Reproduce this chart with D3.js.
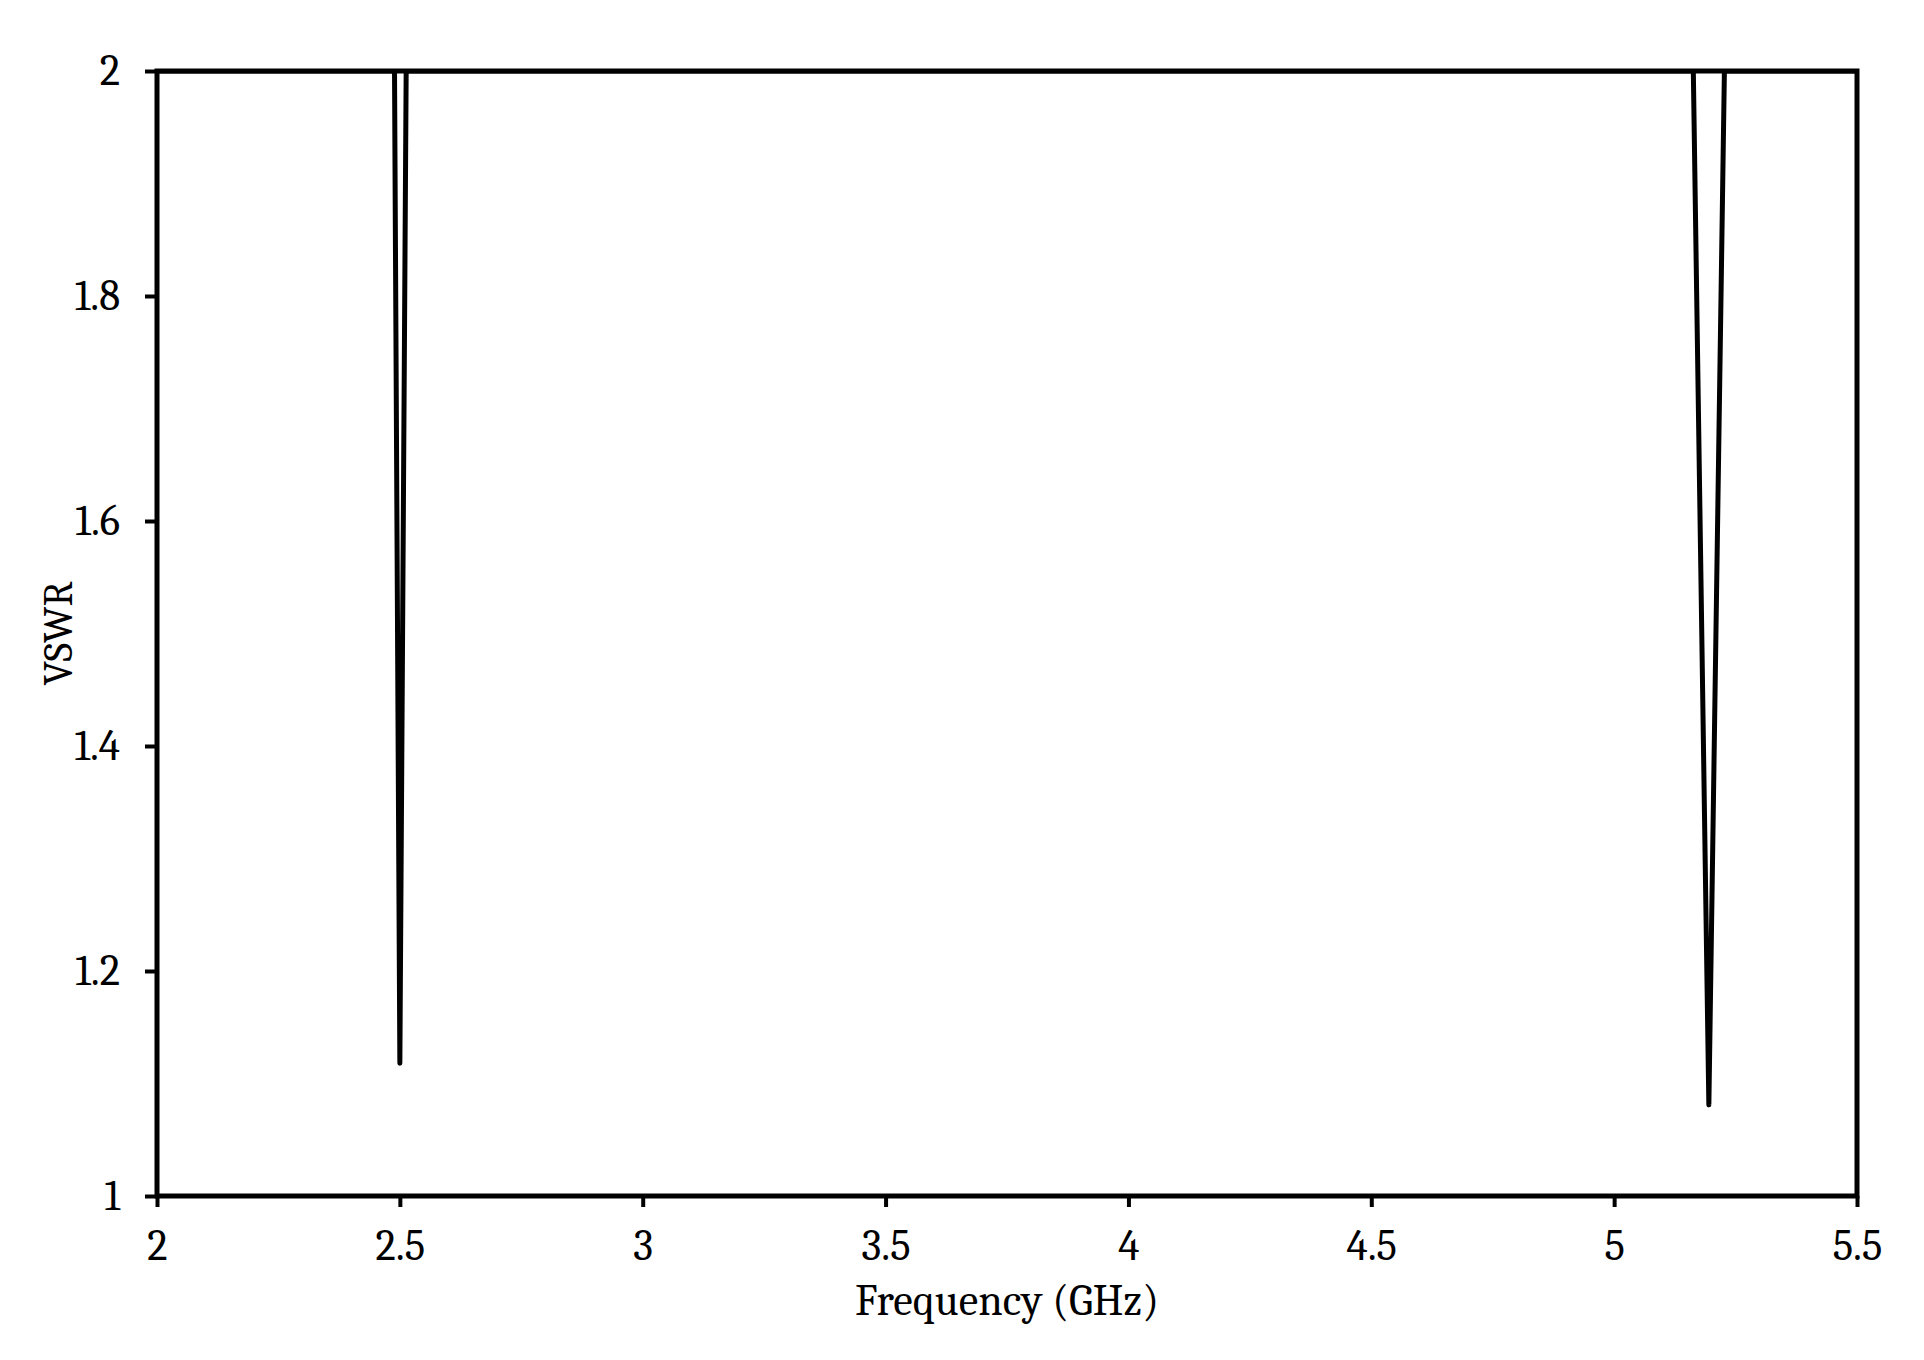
<!DOCTYPE html>
<html>
<head>
<meta charset="utf-8">
<script src="https://cdn.jsdelivr.net/npm/d3@7"></script>
<style>
  body { margin: 0; background: #fff; }
  svg { display: block; }
</style>
</head>
<body>
<div id="chart"></div>
<script>
// data (VSWR above 2 is off the plot, shown at the top edge)
var freq = [2.0, 2.489, 2.5, 2.513, 5.163, 5.195, 5.227, 5.5];
var vswr = [2.0, 2.0, 1.118, 2.0, 2.0, 1.081, 2.0, 2.0];

var xTicks = [2, 2.5, 3, 3.5, 4, 4.5, 5, 5.5];
var yTicks = [1, 1.2, 1.4, 1.6, 1.8, 2];

var xLabel = "Frequency (GHz)";
var yLabel = "VSWR";

// layout
var width = 1924, height = 1360;
var margin = {top: 71, right: 67, bottom: 164, left: 157};
var w = width - margin.left - margin.right;
var h = height - margin.top - margin.bottom;
var font = "Cambria, 'Liberation Serif', 'DejaVu Serif', serif";

var svg = d3.select('#chart')
    .append('svg')
    .attr('width', width)
    .attr('height', height);

svg.append('rect')
    .attr('width', width)
    .attr('height', height)
    .attr('fill', '#fff');

var g = svg.append('g')
    .attr('transform', 'translate(' + margin.left + ',' + margin.top + ')');

var x = d3.scaleLinear().domain([2, 5.5]).range([0, w]);
var y = d3.scaleLinear().domain([1, 2]).range([h, 0]);

// clip so the curve stays inside the frame
g.append('clipPath')
    .attr('id', 'clip')
    .append('rect')
    .attr('width', w)
    .attr('height', h);

var points = freq.map(function(f, i){ return {f: f, v: vswr[i]}; });

var line = d3.line()
    .x(d => x(d.f))
    .y(d => y(d.v));

g.append('path')
    .datum(points)
    .attr('clip-path', 'url(#clip)')
    .attr('d', line)
    .attr('fill', 'none')
    .attr('stroke', '#000')
    .attr('stroke-width', 5)
    .attr('stroke-linejoin', 'round')
    .attr('stroke-linecap', 'round');

// axes
var xAxis = d3.axisBottom(x)
    .tickValues(xTicks)
    .tickSize(11)
    .tickPadding(22)
    .tickFormat(d => String(d));

var yAxis = d3.axisLeft(y)
    .tickValues(yTicks)
    .tickSize(12)
    .tickPadding(25)
    .tickFormat(d => String(d));

var gx = g.append('g')
    .attr('transform', 'translate(0,' + h + ')')
    .call(xAxis);

var gy = g.append('g')
    .call(yAxis);

[gx, gy].forEach(function(a){
  a.select('.domain').remove();
  a.selectAll('.tick line')
      .attr('stroke', '#000')
      .attr('stroke-width', 4);
  a.selectAll('.tick text')
      .attr('fill', '#000')
      .style('font-family', font)
      .style('font-size', '43px');
});

// frame
g.append('rect')
    .attr('width', w)
    .attr('height', h)
    .attr('fill', 'none')
    .attr('stroke', '#000')
    .attr('stroke-width', 5);

// labels
svg.append('text')
    .attr('x', margin.left + w / 2)
    .attr('y', 1315)
    .attr('text-anchor', 'middle')
    .style('font-family', font)
    .style('font-size', '44px')
    .text(xLabel);

svg.append('text')
    .attr('transform', 'translate(72,' + (margin.top + h / 2) + ') rotate(-90)')
    .attr('text-anchor', 'middle')
    .style('font-family', font)
    .style('font-size', '41px')
    .text(yLabel);
</script>
</body>
</html>
